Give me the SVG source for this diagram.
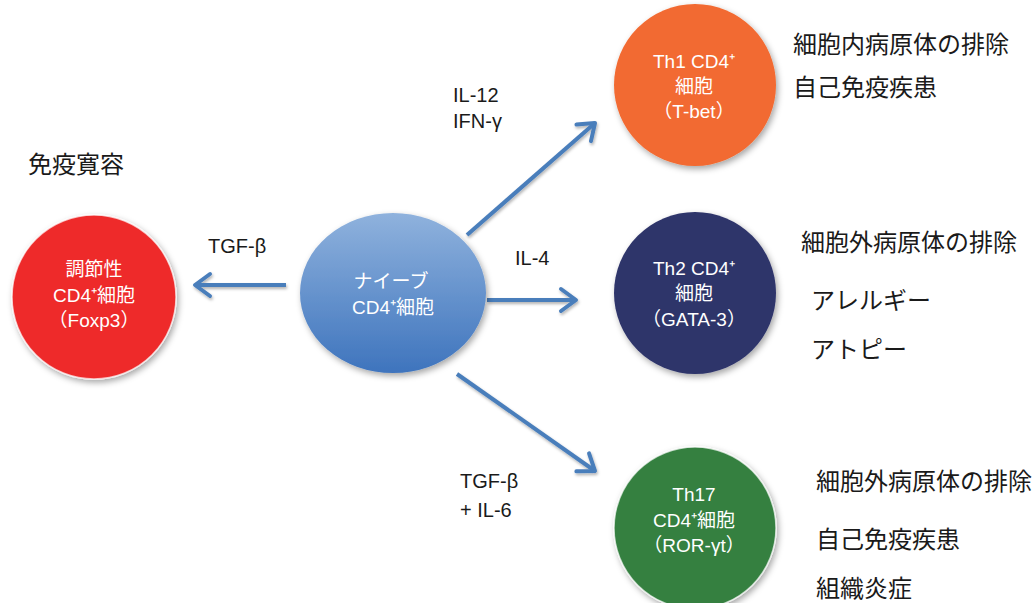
<svg xmlns="http://www.w3.org/2000/svg" width="1033" height="603" viewBox="0 0 1033 603">
<style>
.lbl{font-family:"Liberation Sans","Noto Sans CJK JP",sans-serif;font-size:20px;fill:#1a1a1a}
.jp{font-family:"Noto Sans CJK JP","Noto Sans",sans-serif;font-size:24px;fill:#1a1a1a}
.ct{font-family:"Liberation Sans","Noto Sans CJK JP",sans-serif;font-size:19px;fill:#ffffff;text-anchor:middle}
.conn{stroke:#4a7ebb;stroke-width:4;fill:none;marker-end:url(#arr)}
.node{filter:url(#sh)}
.edge{stroke:#ffffff;stroke-opacity:0.7;stroke-width:1.5}
</style>
<defs>
<filter id="sh" x="-20%" y="-20%" width="140%" height="140%">
<feDropShadow dx="2" dy="3" stdDeviation="3" flood-color="#000" flood-opacity="0.35"/>
</filter>
<filter id="ash" x="-20%" y="-20%" width="140%" height="140%">
<feDropShadow dx="1" dy="2" stdDeviation="1.5" flood-color="#000" flood-opacity="0.3"/>
</filter>
<linearGradient id="blueg" x1="0" y1="0" x2="0" y2="1">
<stop offset="0" stop-color="#8fb2dd"/>
<stop offset="1" stop-color="#3e74bd"/>
</linearGradient>
<marker id="arr" markerUnits="userSpaceOnUse" markerWidth="30" markerHeight="30" refX="0" refY="0" viewBox="-20 -15 24 30" orient="auto">
<path d="M -15 -11 L 0 0 L -15 11" fill="none" stroke="#4a7ebb" stroke-width="4" stroke-linecap="round" stroke-linejoin="round"/>
</marker>
</defs>
<rect width="1033" height="603" fill="#ffffff"/>

<g id="connectors" filter="url(#ash)">
<line class="conn" x1="286" y1="285" x2="195" y2="285"/>
<line class="conn" x1="467" y1="235" x2="595" y2="123"/>
<line class="conn" x1="487" y1="300" x2="576" y2="300"/>
<line class="conn" x1="457" y1="374" x2="595" y2="471"/>
</g>

<g id="naive">
<ellipse class="node" cx="393" cy="293" rx="93" ry="80" fill="url(#blueg)"/>
<text class="ct" font-size="21" x="391" y="288">ナイーブ</text>
<text class="ct" font-size="21" x="393" y="314">CD4⁺細胞</text>
</g>

<g id="treg">
<circle class="node edge" cx="94" cy="297" r="82" fill="#ee2a2b"/>
<text class="ct" x="94" y="276">調節性</text>
<text class="ct" x="94" y="302">CD4⁺細胞</text>
<text class="ct" x="94" y="327">（Foxp3）</text>
</g>

<g id="th1">
<circle class="node" cx="695" cy="85" r="81" fill="#f26a30"/>
<text class="ct" x="694" y="68">Th1 CD4⁺</text>
<text class="ct" x="694" y="93">細胞</text>
<text class="ct" x="694" y="118">（T-bet）</text>
</g>

<g id="th2">
<circle class="node" cx="695" cy="293" r="81" fill="#2e346a"/>
<text class="ct" x="694" y="275">Th2 CD4⁺</text>
<text class="ct" x="694" y="300">細胞</text>
<text class="ct" x="694" y="326">（GATA-3）</text>
</g>

<g id="th17">
<circle class="node edge" cx="695" cy="528" r="81" fill="#348040"/>
<text class="ct" x="694" y="501">Th17</text>
<text class="ct" x="694" y="527">CD4⁺細胞</text>
<text class="ct" x="694" y="552">（ROR-γt）</text>
</g>

<g id="labels">
<text class="lbl" x="453" y="102">IL-12</text>
<text class="lbl" x="453" y="128">IFN-γ</text>
<text class="lbl" x="208" y="253">TGF-β</text>
<text class="lbl" x="515" y="265">IL-4</text>
<text class="lbl" x="460" y="488">TGF-β</text>
<text class="lbl" x="460" y="517">+ IL-6</text>
<text class="jp" x="28" y="173">免疫寛容</text>
<text class="jp" x="793" y="53">細胞内病原体の排除</text>
<text class="jp" x="793" y="96">自己免疫疾患</text>
<text class="jp" x="801" y="251">細胞外病原体の排除</text>
<text class="jp" x="811" y="309">アレルギー</text>
<text class="jp" x="811" y="358">アトピー</text>
<text class="jp" x="816" y="490">細胞外病原体の排除</text>
<text class="jp" x="816" y="548">自己免疫疾患</text>
<text class="jp" x="816" y="597">組織炎症</text>
</g>
</svg>
